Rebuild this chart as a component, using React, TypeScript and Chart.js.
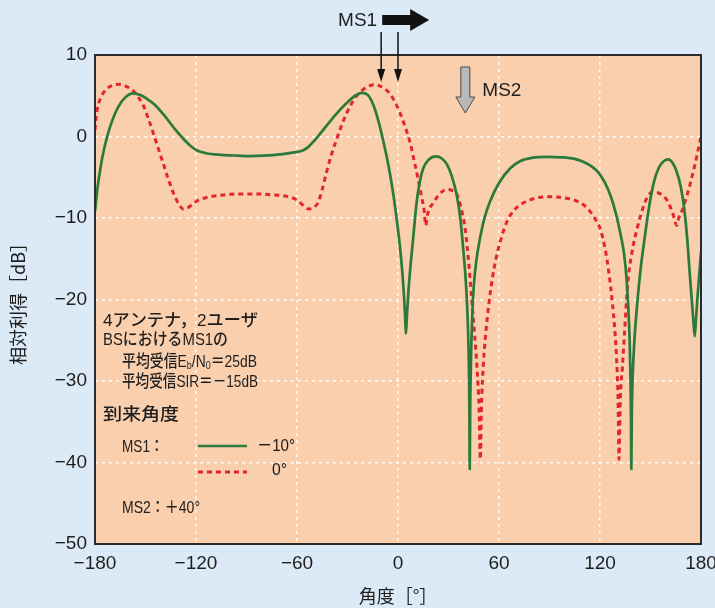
import { useEffect, useRef } from "react";
import { Chart, registerables } from "chart.js";

Chart.register(...registerables);

// ---- data ----
const xTickValues = [-180, -120, -60, 0, 60, 120, 180];
const yTickValues = [-50, -40, -30, -20, -10, 0, 10];

// MS1 arrival -10 deg (green solid)
const greenAngle = [
  -180, -178.5, -177, -175.5, -172.5, -169.5, -166, -162, -157.5, -153, -149, -144.5, -138.5, -132.5, -127, -123,
  -119, -114, -105, -95, -88, -80, -70, -62, -57, -54, -48, -42.5, -36.5, -30.5, -25.5, -21.5, -18, -14.7, -11.5,
  -8.8, -6, -3, -1, 1, 2.5, 3.7, 4.3, 4.7, 5.3, 6.2, 7.2, 9, 11, 13, 15, 18, 22.5, 26, 29, 32, 35, 37, 39, 40.5,
  41.5, 42.1, 42.4, 42.6, 42.9, 43.4, 44.2, 45, 46.5, 48.9, 51.5, 54.8, 60, 66.7, 72.7, 80, 88.6, 97, 105, 110,
  114.5, 119, 123, 126.5, 129.5, 132, 134.3, 135.8, 136.8, 137.6, 138.1, 138.4, 138.6, 138.9, 139.5, 140.3, 141.5,
  143, 144.5, 146.5, 149.2, 152, 155, 158, 160.5, 163, 165.5, 168, 170, 171.8, 173.2, 174.5, 175.6, 176.3, 177, 178,
  179, 180,
];
const greenGain = [
  -9.2, -6.3, -4.2, -2.4, 0.2, 2.1, 3.7, 4.8, 5.3, 5.1, 4.6, 3.9, 2.5, 0.9, -0.4, -1.2,
  -1.75, -2.05, -2.25, -2.35, -2.4, -2.35, -2.2, -1.95, -1.75, -1.4, -0.1, 1.3, 2.8, 4.1, 5.0, 5.35, 5.1, 3.9, 1.8,
  -0.5, -3.2, -6.8, -9.8, -13.2, -16.5, -20, -22.5, -24.2, -22, -19, -16.4, -12.5, -8.2, -5.5, -3.9, -2.9, -2.45, -2.7, -3.4, -4.9, -7.3, -10, -14.4, -18.5,
  -23, -28, -33, -40.8, -33, -27, -21.5, -18.4, -15.3, -12.3, -9.9, -7.9, -5.7, -3.9, -3.0, -2.6, -2.5, -2.55, -2.75, -3.1,
  -3.6, -4.4, -5.7, -7.4, -9.5, -11.8, -14.4, -17.5, -21, -25, -29.5, -34, -40.8, -34, -29, -25.5, -22,
  -18.5, -15.6, -12.5, -8.6, -5.6, -3.8, -3.0, -2.8, -3.2, -4.3, -6.2, -8.8, -12.5, -16.5, -20, -23, -24.5, -22.5, -19.5,
  -16.8, -14.2,
];

// MS1 arrival 0 deg (red dashed)
const redAngle = [
  -180, -179.3, -178.3, -176.5, -173.5, -170, -166, -162, -158, -154.5, -151.5, -148.5, -145.5, -142.5, -139.5, -136.5,
  -133.5, -130.5, -127.5, -124.5, -121.5, -118, -114, -105, -95, -85, -75, -66, -60, -56, -53, -50, -47.5, -45, -42.5,
  -39.5, -36.5, -32.5, -28.5, -24.5, -20.5, -16.5, -13.5, -9, -5, -2, 1.2, 4.2, 7.2, 9.6, 12, 14, 15.5, 16.5, 17.5,
  19, 20.5, 23, 26, 29, 32, 35, 37.5, 40, 42, 44, 45.6, 47, 48.1, 48.9, 49.6, 50.7, 52.2, 54, 56, 58, 61, 64.8, 68.7,
  74, 81, 88.6, 96, 103, 108, 112.5, 116.5, 120.4, 123.5, 126.3, 128.5, 129.8, 130.7, 131.3, 132.1, 133.2, 134.6,
  136.3, 139, 142.3, 145.5, 148.2, 151.2, 154.5, 157.5, 160.1, 163, 165.7, 166.6, 168.5, 172, 176, 180,
];
const redGain = [
  0.8, 2.4, 3.7, 4.8, 5.75, 6.25, 6.4, 6.2, 5.75, 4.9, 3.9, 2.3, 0.5, -1.4, -3.3, -5.2,
  -6.9, -8.2, -8.9, -8.7, -8.2, -7.75, -7.5, -7.2, -7.05, -7.05, -7.15, -7.35, -7.8, -8.5, -8.9, -8.7, -8.1, -6.5, -4.4,
  -2.2, -0.35, 1.9, 3.7, 5.0, 5.8, 6.25, 6.35, 6.0, 5.3, 4.3, 2.9, 1.2, -0.75, -3.0, -5.3, -7.4, -9.0, -10.9, -9.6,
  -8.7, -8.3, -7.5, -6.8, -6.5, -6.6, -7.1, -8.8, -11.5, -15.5, -20.5, -24.5, -28.6, -33, -39.6, -33, -28, -24, -20.5, -17.5, -15.2, -12.7, -10.4, -9.1,
  -8.2, -7.6, -7.4, -7.45, -7.7, -8.1, -8.8, -9.9, -11.5, -14.3, -18.4, -23, -27, -32, -39.6, -32, -28.6, -24,
  -18.4, -14.2, -11.1, -8.8, -7.4, -6.8, -6.9, -7.3, -7.9, -9.3, -10.9, -10.1, -9.2, -7.0, -3.8, 0.0,
];

const ms1Angles = [-10, 0];
const ms2Angle = 40;

const xTitle = "角度［°］";
const yTitle = "相対利得［dB］";

// ---- styles ----
const PAGE_BG = "#dbeaf6";
const PLOT_BG = "#f9cfae";
const GREEN = "#2b7a3b";
const RED = "#e3262b";
const TEXT = "#1e1e1e";
const CJK = '"Noto Sans CJK JP", "Noto Sans", sans-serif';
const LATIN = '"Liberation Sans", Arial, sans-serif';
const MIXED = '"Liberation Sans", "Noto Sans CJK JP", sans-serif';

type Part = { t: string; sub?: boolean };

function drawRich(ctx: CanvasRenderingContext2D, parts: Part[], x: number, y: number, targetW: number, size = 17) {
  const main = `500 ${size}px ${MIXED}`;
  const small = `500 ${Math.round(size * 0.62)}px ${MIXED}`;
  ctx.save();
  ctx.textBaseline = "middle";
  ctx.textAlign = "left";
  ctx.fillStyle = TEXT;
  let w = 0;
  for (const p of parts) {
    ctx.font = p.sub ? small : main;
    w += ctx.measureText(p.t).width;
  }
  let sx = targetW / w;
  sx = Math.max(0.8, Math.min(1.12, sx));
  ctx.translate(x, y);
  ctx.scale(sx, 1);
  let cx = 0;
  for (const p of parts) {
    ctx.font = p.sub ? small : main;
    ctx.fillText(p.t, cx, p.sub ? 4 : 0);
    cx += ctx.measureText(p.t).width;
  }
  ctx.restore();
}

const fmt = (v: number | string) => String(v).replace("-", "\u2212");

const decorPlugin = {
  id: "decor",
  beforeDraw(chart: any) {
    const { ctx, chartArea } = chart;
    const { left, top, right, bottom } = chartArea;
    ctx.save();
    ctx.fillStyle = PLOT_BG;
    ctx.fillRect(left, top, right - left, bottom - top);
    ctx.restore();
  },
  afterDraw(chart: any) {
    const { ctx, chartArea, scales } = chart;
    const { left, top, right, bottom } = chartArea;
    const xs = scales.x;

    // frame
    ctx.save();
    ctx.strokeStyle = "#2a2a2a";
    ctx.lineWidth = 2;
    ctx.strokeRect(left, top, right - left, bottom - top);
    ctx.restore();

    // MS1 thin arrows
    ctx.save();
    ctx.strokeStyle = "#111";
    ctx.fillStyle = "#111";
    ctx.lineWidth = 1.5;
    for (const a of ms1Angles) {
      const px = xs.getPixelForValue(a);
      const y0 = top - 23;
      const tip = top + 27;
      ctx.beginPath();
      ctx.moveTo(px, y0);
      ctx.lineTo(px, tip - 10);
      ctx.stroke();
      ctx.beginPath();
      ctx.moveTo(px, tip);
      ctx.lineTo(px - 4, tip - 13);
      ctx.lineTo(px + 4, tip - 13);
      ctx.closePath();
      ctx.fill();
    }
    // block arrow
    const bx = xs.getPixelForValue(ms1Angles[0]) + 1;
    ctx.beginPath();
    ctx.moveTo(bx, 15);
    ctx.lineTo(bx + 28, 15);
    ctx.lineTo(bx + 28, 9);
    ctx.lineTo(bx + 47, 20);
    ctx.lineTo(bx + 28, 31);
    ctx.lineTo(bx + 28, 25);
    ctx.lineTo(bx, 25);
    ctx.closePath();
    ctx.fill();
    ctx.font = `19px ${LATIN}`;
    ctx.textAlign = "right";
    ctx.textBaseline = "middle";
    ctx.fillStyle = TEXT;
    ctx.fillText("MS1", bx - 5, 21);
    ctx.restore();

    // MS2 gray arrow
    const mx = xs.getPixelForValue(ms2Angle);
    ctx.save();
    ctx.fillStyle = "#b9b9b9";
    ctx.strokeStyle = "#4a4a4a";
    ctx.lineWidth = 1;
    ctx.beginPath();
    ctx.moveTo(mx - 4.5, top + 12);
    ctx.lineTo(mx + 4.5, top + 12);
    ctx.lineTo(mx + 4.5, top + 42);
    ctx.lineTo(mx + 9.5, top + 42);
    ctx.lineTo(mx, top + 58);
    ctx.lineTo(mx - 9.5, top + 42);
    ctx.lineTo(mx - 4.5, top + 42);
    ctx.closePath();
    ctx.fill();
    ctx.stroke();
    ctx.font = `19px ${LATIN}`;
    ctx.textAlign = "left";
    ctx.textBaseline = "middle";
    ctx.fillStyle = TEXT;
    ctx.fillText("MS2", mx + 17, 91);
    ctx.restore();

    // info text block
    const L = left + 8;
    const L2 = left + 27;
    drawRich(ctx, [{ t: "4アンテナ，2ユーザ" }], L, 321, 155);
    drawRich(ctx, [{ t: "BSにおけるMS1の" }], L, 340, 125);
    drawRich(
      ctx,
      [{ t: "平均受信E" }, { t: "b", sub: true }, { t: "/N" }, { t: "0", sub: true }, { t: "＝25dB" }],
      L2, 362, 135
    );
    drawRich(ctx, [{ t: "平均受信SIR＝－15dB" }], L2, 382, 135);
    drawRich(ctx, [{ t: "到来角度" }], L, 415, 77);
    drawRich(ctx, [{ t: "MS1：" }], L2, 447, 40);
    drawRich(ctx, [{ t: "－10°" }], 257, 446, 38);
    drawRich(ctx, [{ t: "0°" }], 272, 470, 15);
    drawRich(ctx, [{ t: "MS2：＋40°" }], L2, 508, 78);

    // legend samples
    ctx.save();
    ctx.strokeStyle = GREEN;
    ctx.lineWidth = 2.7;
    ctx.beginPath();
    ctx.moveTo(198, 446);
    ctx.lineTo(247, 446);
    ctx.stroke();
    ctx.strokeStyle = RED;
    ctx.lineWidth = 3;
    ctx.setLineDash([5, 4]);
    ctx.beginPath();
    ctx.moveTo(198, 472);
    ctx.lineTo(247, 472);
    ctx.stroke();
    ctx.restore();
  },
};

export default function App() {
  const ref = useRef<HTMLCanvasElement | null>(null);

  useEffect(() => {
    if (!ref.current) return;
    const green = greenAngle.map((x, i) => ({ x, y: greenGain[i] }));
    const red = redAngle.map((x, i) => ({ x, y: redGain[i] }));
    const gridColor = (c: any) => {
      const v = c.tick?.value;
      const s = c.scale;
      if (v === s.min || v === s.max) return "rgba(0,0,0,0)";
      return "rgba(255,255,255,0.9)";
    };
    const chart = new Chart(ref.current, {
      type: "line",
      data: {
        datasets: [
          {
            label: "MS1 −10°",
            data: green,
            borderColor: GREEN,
            borderWidth: 2.7,
            pointRadius: 0,
            cubicInterpolationMode: "monotone",
            fill: false,
          },
          {
            label: "MS1 0°",
            data: red,
            borderColor: RED,
            borderWidth: 3,
            borderDash: [5, 4],
            pointRadius: 0,
            cubicInterpolationMode: "monotone",
            fill: false,
          },
        ],
      },
      options: {
        animation: false,
        responsive: true,
        maintainAspectRatio: false,
        layout: { padding: { top: 55, right: 0, left: 0, bottom: 0 } },
        plugins: { legend: { display: false }, tooltip: { enabled: false } },
        scales: {
          x: {
            type: "linear",
            min: -180,
            max: 180,
            afterBuildTicks: (s: any) => {
              s.ticks = xTickValues.map((value) => ({ value }));
            },
            afterFit: (s: any) => {
              s.height = 64;
              s.paddingRight = 14;
              s.paddingLeft = 0;
            },
            grid: { color: gridColor, lineWidth: 1.5, drawTicks: false },
            border: { display: false, dash: [3, 4] },
            ticks: {
              padding: 8,
              autoSkip: false,
              maxRotation: 0,
              color: TEXT,
              font: { family: LATIN, size: 19 },
              callback: (v: any) => fmt(v),
            },
            title: {
              display: true,
              text: xTitle,
              color: TEXT,
              font: { family: CJK, size: 18 },
              padding: { top: 4, bottom: 1 },
            },
          },
          y: {
            type: "linear",
            min: -50,
            max: 10,
            afterBuildTicks: (s: any) => {
              s.ticks = yTickValues.map((value) => ({ value }));
            },
            afterFit: (s: any) => {
              s.width = 95;
            },
            grid: { color: gridColor, lineWidth: 1.5, drawTicks: false },
            border: { display: false, dash: [3, 4] },
            ticks: {
              padding: 8,
              autoSkip: false,
              color: TEXT,
              font: { family: LATIN, size: 19 },
              callback: (v: any) => fmt(v),
            },
            title: {
              display: true,
              text: yTitle,
              color: TEXT,
              font: { family: CJK, size: 18 },
              padding: { top: 7, bottom: 4 },
            },
          },
        },
      },
      plugins: [decorPlugin],
    } as any);
    return () => chart.destroy();
  }, []);

  return (
    <div
      style={{
        position: "fixed",
        left: 0,
        top: 0,
        width: 715,
        height: 608,
        background: PAGE_BG,
      }}
    >
      <canvas ref={ref} style={{ display: "block" }} />
    </div>
  );
}
